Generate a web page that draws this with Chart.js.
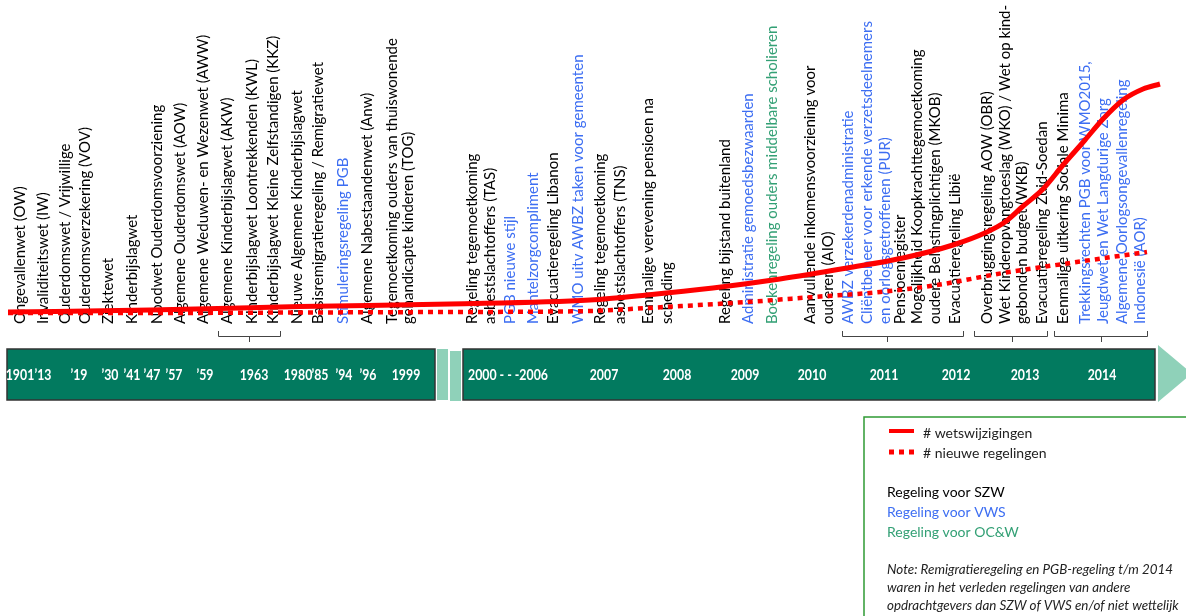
<!DOCTYPE html>
<html>
<head>
<meta charset="utf-8">
<script src="https://cdn.jsdelivr.net/npm/chart.js@4.4.1/dist/chart.umd.min.js"></script>
<style>
  html, body { margin: 0; padding: 0; background: #fff; }
</style>
</head>
<body>
<canvas id="wetChart" width="1186" height="616"></canvas>
<script>
// Gebeurtenissen op de tijdlijn (positie in tijdlijn-eenheden)
const eventLabels = [
  "Ongevallenwet (OW)", "Invaliditeitswet (IW)", "Ouderdomswet / Vrijwillige",
  "Ouderdomsverzekering (VOV)", "Ziektewet", "Kinderbijslagwet",
  "Noodwet Ouderdomsvoorziening", "Algemene Ouderdomswet (AOW)",
  "Algemene Weduwen- en Wezenwet (AWW)", "Algemene Kinderbijslagwet (AKW)",
  "Kinderbijslagwet Loontrekkenden (KWL)", "Kinderbijslagwet Kleine Zelfstandigen (KKZ)",
  "Nieuwe Algemene Kinderbijslagwet", "Basisremigratieregeling / Remigratiewet",
  "Stimuleringsregeling PGB", "Algemene Nabestaandenwet (Anw)",
  "Tegemoetkoming ouders van thuiswonende", "gehandicapte kinderen (TOG)",
  "Regeling tegemoetkoming", "asbestslachtoffers (TAS)", "PGB nieuwe stijl",
  "Mantelzorgcompliment", "Evacuatieregeling Libanon",
  "WMO uitv AWBZ taken voor gemeenten", "Regeling tegemoetkoming",
  "asbestslachtoffers (TNS)", "Eenmalige verevening pensioen na", "scheiding",
  "Regeling bijstand buitenland", "Administratie gemoedsbezwaarden",
  "Boekenregeling ouders middelbare scholieren", "Aanvullende inkomensvoorziening voor",
  "ouderen (AIO)", "AWBZ verzekerdenadministratie",
  "Cliëntbeheer voor erkende verzetsdeelnemers", "en oorlogsgetroffenen (PUR)",
  "Pensioenregister", "Mogelijkheid Koopkrachttegemoetkoming",
  "oudere Belastingplichtigen (MKOB)", "Evacuatieregeling Libië",
  "Overbruggingsregeling AOW (OBR)", "Wet Kinderopvangtoeslag (WKO) / Wet op kind-",
  "gebonden budget (WKB)", "Evacuatieregeling Zuid-Soedan",
  "Eenmalige uitkering Sociale Minima", "Trekkingsrechten PGB voor WMO2015,",
  "Jeugdwet en Wet Langdurige Zorg", "Algemene Oorlogsongevallenregeling",
  "Indonesië (AOR)"
];
const eventPos = [
  2.0, 4.3, 6.5, 8.5, 10.8, 13.2, 15.7, 18.0, 20.3, 22.7, 25.2, 27.3, 29.7,
  31.8, 34.3, 36.7, 39.2, 40.8, 47.2, 49.0, 51.0, 53.3, 55.3, 57.8, 60.0,
  62.0, 64.8, 66.7, 72.5, 74.8, 77.2, 81.0, 82.8, 84.8, 86.7, 88.5, 90.0,
  91.7, 93.5, 95.5, 98.7, 100.5, 102.2, 104.2, 106.3, 108.5, 110.3, 112.2, 114.0
];
// S = SZW, V = VWS, O = OC&W
const eventOwner = [
  "S","S","S","S","S","S","S","S","S","S","S","S","S","S","V","S","S","S",
  "S","S","V","V","S","V","S","S","S","S","S","V","O","S","S","V","V","V",
  "S","S","S","S","S","S","S","S","S","V","V","V","V"
];

// Jaartallen op de balk
const yearLabels = ["1901", "’13", "’19", "’30", "’41", "’47", "’57", "’59", "1963",
  "1980", "’85", "’94", "’96", "1999", "2000 - - -2006", "2007", "2008", "2009",
  "2010", "2011", "2012", "2013", "2014"];
const yearPos = [2.0, 4.3, 7.9, 11.0, 13.2, 15.2, 17.4, 20.5, 25.4, 29.8, 32.0,
  34.4, 36.8, 40.6, 50.8, 60.4, 67.7, 74.5, 81.2, 88.4, 95.6, 102.5, 110.2];

// Accolades (van, tot, middelpunt)
const bracketFrom = [21.8, 84.2, 97.4, 105.4];
const bracketTo = [28.0, 96.3, 104.7, 114.7];
const bracketMid = [24.9, 88.7, 101.2, 110.1];

// # wetswijzigingen (relatief)
const wetX = [0.8, 15, 30, 45, 59, 64.7, 71.3, 78, 84.7, 90.3, 95.3, 98.7, 100.5,
  102.2, 104.3, 106.3, 108.5, 110.3, 112.3, 114.3, 116];
const wetY = [0.0, 0.2, 0.55, 0.8, 1.2, 1.7, 2.4, 3.3, 4.4, 5.4, 6.7, 8.0, 9.0,
  10.5, 12.3, 14.7, 17.2, 19.3, 21.2, 22.3, 22.8];

// # nieuwe regelingen (relatief)
const regX = [0.8, 15, 30, 45, 59, 64.7, 74.7, 81.3, 88, 93.7, 100.3, 107, 114.7];
const regY = [-0.1, -0.1, -0.05, 0.0, 0.1, 0.4, 1.0, 1.5, 2.0, 2.7, 3.9, 4.9, 6.0];

const ownerColors = { S: "#000000", V: "#3d6ef2", O: "#33a075" };
const labelFont = "15px Lato, 'Open Sans', sans-serif";
const yearFont = "bold 15px Lato, 'Liberation Sans', sans-serif";

const timelinePlugin = {
  id: "timeline",
  beforeDatasetsDraw(chart) {
    const { ctx, scales: { x } } = chart;

    // verticale labels
    ctx.save();
    ctx.font = labelFont;
    ctx.textAlign = "left";
    ctx.textBaseline = "middle";
    eventLabels.forEach((txt, i) => {
      ctx.save();
      ctx.translate(x.getPixelForValue(eventPos[i]), 324);
      ctx.rotate(-Math.PI / 2);
      ctx.fillStyle = ownerColors[eventOwner[i]];
      ctx.fillText(txt, 0, 0);
      ctx.restore();
    });
    ctx.restore();

    // accolades
    ctx.save();
    ctx.strokeStyle = "#444";
    ctx.lineWidth = 1;
    bracketFrom.forEach((f, i) => {
      const a = Math.round(x.getPixelForValue(f)) + 0.5;
      const b = Math.round(x.getPixelForValue(bracketTo[i])) + 0.5;
      const m = Math.round(x.getPixelForValue(bracketMid[i])) + 0.5;
      ctx.beginPath();
      ctx.moveTo(a, 331);
      ctx.lineTo(a, 336.5);
      ctx.lineTo(b, 336.5);
      ctx.lineTo(b, 331);
      ctx.moveTo(m, 336.5);
      ctx.lineTo(m, 342);
      ctx.stroke();
    });
    ctx.restore();
  },
  afterDraw(chart) {
    const { ctx, scales: { x } } = chart;
    ctx.save();

    // tijdlijnbalk
    const light = "#8fd1b9";
    ctx.fillStyle = "#027a5f";
    ctx.strokeStyle = "#333";
    ctx.lineWidth = 1.5;
    ctx.fillRect(7, 349, 428, 51);
    ctx.strokeRect(7, 349, 428, 51);
    ctx.fillRect(463, 349, 692, 51);
    ctx.strokeRect(463, 349, 692, 51);
    ctx.fillStyle = light;
    ctx.fillRect(437, 349, 11, 51);
    ctx.fillRect(450, 351, 11, 50);
    ctx.beginPath();
    ctx.moveTo(1158, 345);
    ctx.lineTo(1158, 402);
    ctx.lineTo(1192, 373.5);
    ctx.closePath();
    ctx.fill();

    // jaartallen (smal gezet, zoals het origineel)
    ctx.fillStyle = "#ffffff";
    ctx.font = yearFont;
    ctx.textAlign = "center";
    ctx.textBaseline = "middle";
    yearLabels.forEach((t, i) => {
      ctx.save();
      ctx.translate(x.getPixelForValue(yearPos[i]), 375);
      ctx.scale(0.82, 1);
      ctx.fillText(t, 0, 0);
      ctx.restore();
    });

    // legenda
    ctx.strokeStyle = "#2f9a35";
    ctx.lineWidth = 1.5;
    ctx.strokeRect(864, 417, 340, 230);

    ctx.strokeStyle = "#ff0000";
    ctx.lineWidth = 4;
    ctx.beginPath();
    ctx.moveTo(889, 431);
    ctx.lineTo(914, 431);
    ctx.stroke();
    ctx.lineWidth = 5;
    ctx.setLineDash([5, 5]);
    ctx.beginPath();
    ctx.moveTo(889, 452);
    ctx.lineTo(916, 452);
    ctx.stroke();
    ctx.setLineDash([]);

    ctx.textAlign = "left";
    ctx.font = "14px Lato, 'Open Sans', sans-serif";
    ctx.fillStyle = "#222";
    ctx.fillText("# wetswijzigingen", 923, 433);
    ctx.fillText("# nieuwe regelingen", 923, 453);

    ctx.fillStyle = ownerColors.S;
    ctx.fillText("Regeling voor SZW", 887, 492);
    ctx.fillStyle = ownerColors.V;
    ctx.fillText("Regeling voor VWS", 887, 512);
    ctx.fillStyle = ownerColors.O;
    ctx.fillText("Regeling voor OC&W", 887, 532);

    ctx.fillStyle = "#222";
    ctx.font = "italic 13.4px Lato, 'Open Sans', sans-serif";
    ctx.fillText("Note: Remigratieregeling en PGB-regeling t/m 2014", 887, 570);
    ctx.fillText("waren in het verleden regelingen van andere", 887, 588);
    ctx.fillText("opdrachtgevers dan SZW of VWS en/of niet wettelijk", 887, 606);

    ctx.restore();
  }
};

const ctx = document.getElementById("wetChart").getContext("2d");

new Chart(ctx, {
  type: "line",
  data: {
    datasets: [
      {
        label: "# nieuwe regelingen",
        data: regX.map((v, i) => ({ x: v, y: regY[i] })),
        borderColor: "#ff0000",
        borderWidth: 4.5,
        borderDash: [5, 5],
        borderCapStyle: "butt",
        pointRadius: 0,
        tension: 0.4,
        cubicInterpolationMode: "monotone",
        fill: false
      },
      {
        label: "# wetswijzigingen",
        data: wetX.map((v, i) => ({ x: v, y: wetY[i] })),
        borderColor: "#ff0000",
        borderWidth: 5,
        pointRadius: 0,
        tension: 0.4,
        cubicInterpolationMode: "monotone",
        fill: false
      }
    ]
  },
  options: {
    responsive: false,
    animation: false,
    layout: { padding: 0 },
    plugins: {
      legend: { display: false },
      tooltip: { enabled: false }
    },
    scales: {
      x: { type: "linear", min: 0, max: 118.6, display: false },
      y: { type: "linear", min: -30.4, max: 31.2, display: false }
    }
  },
  plugins: [timelinePlugin]
});
</script>
</body>
</html>
